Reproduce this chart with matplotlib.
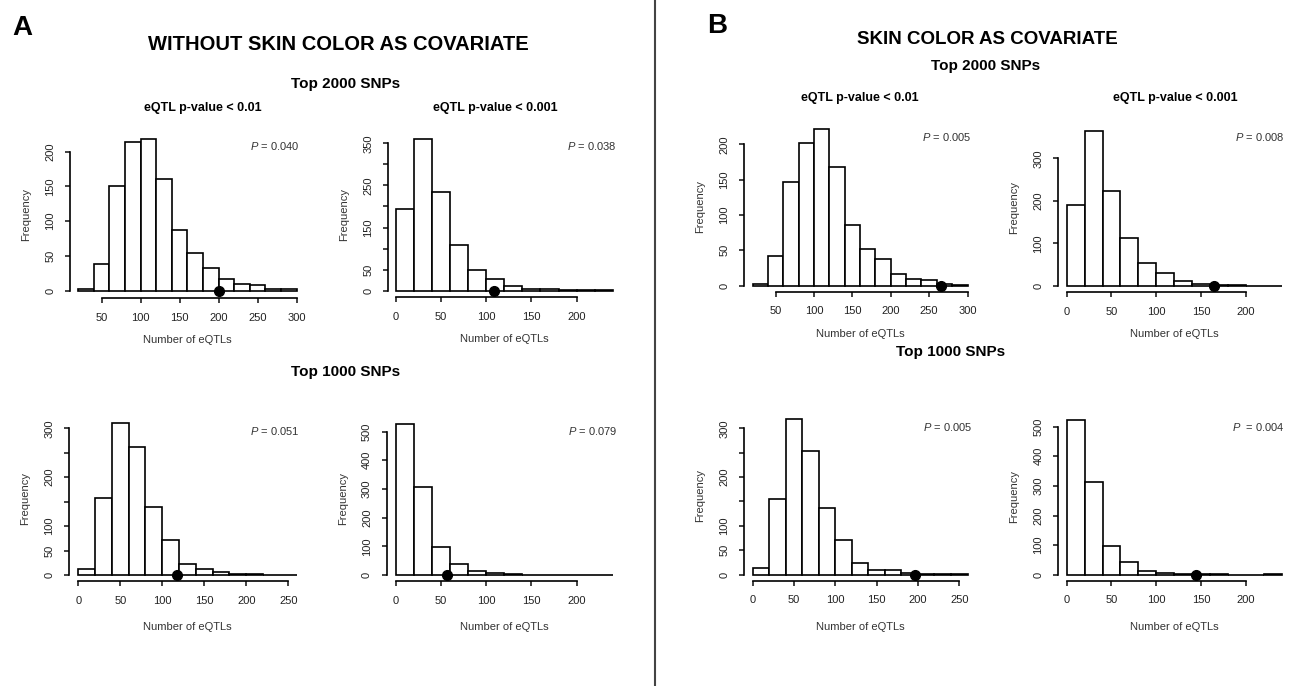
import numpy as np
import matplotlib
matplotlib.use('Agg')
import matplotlib.pyplot as plt
from matplotlib.lines import Line2D

plt.rcParams['font.family'] = ['Liberation Sans', 'DejaVu Sans']
plt.rcParams['mathtext.fontset'] = 'custom'
plt.rcParams['mathtext.rm'] = 'Liberation Sans'
plt.rcParams['mathtext.it'] = 'Liberation Sans:italic'

# Histogram data (bin width 20), observed value (black dot) and permutation P
a1_start, a1_counts, a1_obs, a1_p = 20, [3, 38, 151, 214, 218, 161, 88, 54, 33, 17, 9, 8, 3, 2], 200, '0.040'
a2_start, a2_counts, a2_obs, a2_p = 0, [193, 360, 235, 108, 50, 28, 12, 5, 4, 2, 2, 1], 108, '0.038'
a3_start, a3_counts, a3_obs, a3_p = 0, [13, 157, 310, 262, 140, 72, 22, 12, 6, 2, 3, 1, 1], 118, '0.051'
a4_start, a4_counts, a4_obs, a4_p = 0, [528, 308, 97, 40, 13, 6, 2, 1, 1, 0, 0, 1], 56, '0.079'
b1_start, b1_counts, b1_obs, b1_p = 20, [2, 42, 147, 202, 222, 168, 86, 52, 38, 17, 10, 8, 2, 1], 266, '0.005'
b2_start, b2_counts, b2_obs, b2_p = 0, [191, 364, 224, 112, 53, 31, 11, 5, 2, 3, 1, 1], 165, '0.008'
b3_start, b3_counts, b3_obs, b3_p = 0, [13, 155, 320, 253, 136, 72, 24, 9, 9, 3, 1, 1, 1], 196, '0.005'
b4_start, b4_counts, b4_obs, b4_p = 0, [522, 312, 97, 42, 13, 6, 2, 1, 1, 0, 0, 1], 145, '0.004'
bin_width = 20

# axis ticks per panel
xt_a1, xt_a2, xt_a3, xt_a4 = [50, 100, 150, 200, 250, 300], [0, 50, 100, 150, 200], [0, 50, 100, 150, 200, 250], [0, 50, 100, 150, 200]
yt_a1, yl_a1 = [0, 50, 100, 150, 200], ['0', '50', '100', '150', '200']
yt_a2, yl_a2 = [0, 50, 100, 150, 200, 250, 300, 350], ['0', '50', '', '150', '', '250', '', '350']
yt_a3, yl_a3 = [0, 50, 100, 150, 200, 250, 300], ['0', '50', '100', '', '200', '', '300']
yt_a4, yl_a4 = [0, 100, 200, 300, 400, 500], ['0', '100', '200', '300', '400', '500']
yt_b1, yl_b1 = yt_a1, yl_a1
yt_b2, yl_b2 = [0, 100, 200, 300], ['0', '100', '200', '300']
yt_b3, yl_b3 = yt_a3, yl_a3
yt_b4, yl_b4 = yt_a4, yl_a4

W, H = 1298, 686
fig = plt.figure(figsize=(W / 100, H / 100), dpi=100)


def fx(x):
    return x / W


def fy(y):
    return 1 - y / H


def panel(start, counts, obs, pval, xticks, yticks, ylabels, box, ptext_pos, nsp=' ', xlab_gap=42):
    # box: pixel coords x_lo, x_hi, y0, y_top, y-axis x, x-axis y
    x_lo, x_hi, y0, y_top, yax, xax = box
    ax = fig.add_axes([fx(x_lo), fy(y0), (x_hi - x_lo) / W, (y0 - y_top) / H])
    edges = start + bin_width * np.arange(len(counts))
    ax.bar(edges, counts, width=bin_width, align='edge', facecolor='white',
           edgecolor='black', linewidth=1.2, clip_on=False)
    ax.plot([obs], [0], 'o', color='black', ms=7, clip_on=False, zorder=5)
    ax.set_xlim(start, start + bin_width * len(counts))
    ax.set_ylim(0, max(counts))
    for s in ['top', 'right']:
        ax.spines[s].set_visible(False)
    ax.spines['left'].set_position(('outward', (x_lo - yax) * 0.72))
    ax.spines['bottom'].set_position(('outward', (xax - y0) * 0.72))
    ax.spines['left'].set_bounds(yticks[0], yticks[-1])
    ax.spines['bottom'].set_bounds(xticks[0], xticks[-1])
    for s in ['left', 'bottom']:
        ax.spines[s].set_linewidth(1.2)
    ax.set_xticks(xticks)
    ax.set_yticks(yticks)
    ax.set_yticklabels(ylabels)
    ax.tick_params(length=3.6, width=1.2, labelsize=8, pad=7, colors='#222')
    for lab in ax.get_yticklabels():
        lab.set_rotation(90)
        lab.set_va('center')
    ax.patch.set_alpha(0)
    # labels
    fig.text(fx(yax - 44), fy((xax + y_top - 8) / 2), 'Frequency', rotation=90,
             ha='center', va='center', fontsize=8, color='#333')
    fig.text(fx((yax + x_hi + (x_lo - yax)) / 2), fy(xax + xlab_gap), 'Number of eQTLs',
             ha='center', va='center', fontsize=8, color='#333')
    fig.text(fx(ptext_pos[0]), fy(ptext_pos[1]), r'$\it{P}$' + nsp + '= ' + pval,
             ha='right', va='center', fontsize=8, color='#333')
    return ax


panel(a1_start, a1_counts, a1_obs, a1_p, xt_a1, yt_a1, yl_a1, (78.3, 296.7, 290.7, 139.2, 70, 298), (300, 146))
panel(a2_start, a2_counts, a2_obs, a2_p, xt_a2, yt_a2, yl_a2, (396, 612.7, 290.7, 139.1, 388.3, 297.3), (617, 146))
panel(a3_start, a3_counts, a3_obs, a3_p, xt_a3, yt_a3, yl_a3, (78.3, 296.7, 575, 423.4, 69.3, 581), (300, 431), xlab_gap=46)
panel(a4_start, a4_counts, a4_obs, a4_p, xt_a4, yt_a4, yl_a4, (396, 612.7, 575, 423.6, 386.7, 581), (617, 431), xlab_gap=46)
panel(b1_start, b1_counts, b1_obs, b1_p, xt_a1, yt_b1, yl_b1, (752.7, 967.5, 285.7, 128.7, 744.3, 291.7), (971, 137))
panel(b2_start, b2_counts, b2_obs, b2_p, xt_a2, yt_b2, yl_b2, (1066.7, 1281.5, 286, 131, 1058.3, 292.3), (1285, 137))
panel(b3_start, b3_counts, b3_obs, b3_p, xt_a3, yt_b3, yl_b3, (752.7, 967.5, 574.7, 418.5, 744.3, 580.7), (972, 427), xlab_gap=46)
panel(b4_start, b4_counts, b4_obs, b4_p, xt_a4, yt_b4, yl_b4, (1066.7, 1281.5, 574.7, 420.2, 1058.3, 580.7), (1285, 427), nsp='  ', xlab_gap=46)

# headings
fig.text(fx(12), fy(28), 'A', fontsize=20, fontweight='bold', ha='left', va='center')
fig.text(fx(707), fy(26), 'B', fontsize=20, fontweight='bold', ha='left', va='center')
fig.text(fx(338), fy(45), 'WITHOUT SKIN COLOR AS COVARIATE', fontsize=14.5, fontweight='bold', ha='center', va='center')
fig.text(fx(987), fy(40), 'SKIN COLOR AS COVARIATE', fontsize=13.5, fontweight='bold', ha='center', va='center')
fig.text(fx(346), fy(84), 'Top 2000 SNPs', fontsize=11, fontweight='bold', ha='center', va='center')
fig.text(fx(986), fy(66), 'Top 2000 SNPs', fontsize=11, fontweight='bold', ha='center', va='center')
fig.text(fx(346), fy(372), 'Top 1000 SNPs', fontsize=11, fontweight='bold', ha='center', va='center')
fig.text(fx(951), fy(352), 'Top 1000 SNPs', fontsize=11, fontweight='bold', ha='center', va='center')
fig.text(fx(203), fy(108), 'eQTL p-value < 0.01', fontsize=9, fontweight='bold', ha='center', va='center')
fig.text(fx(495), fy(108), 'eQTL p-value < 0.001', fontsize=9, fontweight='bold', ha='center', va='center')
fig.text(fx(860), fy(98), 'eQTL p-value < 0.01', fontsize=9, fontweight='bold', ha='center', va='center')
fig.text(fx(1175), fy(98), 'eQTL p-value < 0.001', fontsize=9, fontweight='bold', ha='center', va='center')

# divider between A and B
fig.add_artist(Line2D([fx(655), fx(655)], [0, 1], color='#444', lw=1.5))

fig.savefig('out.png', dpi=100, facecolor='white')
